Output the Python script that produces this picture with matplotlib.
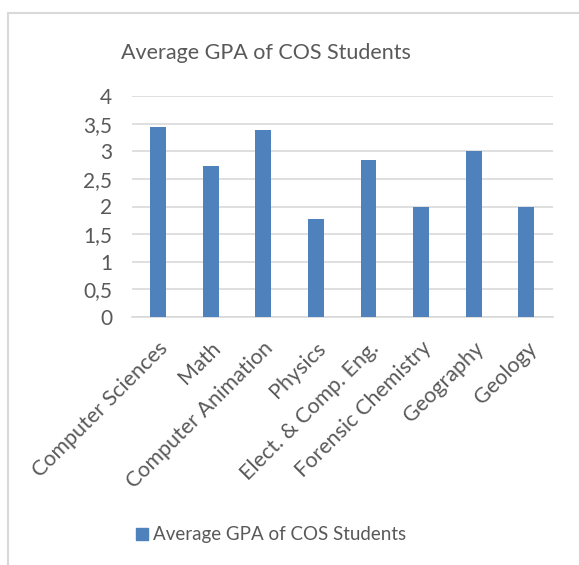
import matplotlib
matplotlib.use("Agg")
import matplotlib.pyplot as plt
from matplotlib.patches import Rectangle
from matplotlib.lines import Line2D
from matplotlib.transforms import ScaledTranslation

categories = ["Computer Sciences", "Math", "Computer Animation", "Physics",
              "Elect. & Comp. Eng.", "Forensic Chemistry", "Geography", "Geology"]
gpa = [3.43, 2.73, 3.38, 1.78, 2.84, 1.99, 3.0, 2.0]
yticks = [0, 0.5, 1, 1.5, 2, 2.5, 3, 3.5, 4]
ytick_labels = ["0", "0,5", "1", "1,5", "2", "2,5", "3", "3,5", "4"]
title = "Average GPA of COS Students"
series_name = "Average GPA of COS Students"

plt.rcParams['font.family'] = ['Lato', 'DejaVu Sans']
txt = "#595959"
bar_color = "#4F81BD"

fig = plt.figure(figsize=(5.79, 5.65), dpi=100)
W, H = 579, 565
ax = fig.add_axes([131.7 / W, 1 - 317 / H, (552.7 - 131.7) / W, (317 - 96) / H])

x = list(range(len(categories)))
ax.bar(x, gpa, width=0.30, color=bar_color, zorder=3)
ax.set_xlim(-0.5, len(categories) - 0.5)
ax.set_ylim(0, 4)
ax.set_yticks(yticks)
ax.set_yticklabels(ytick_labels, fontsize=15, color=txt)
ax.yaxis.grid(True, color="#D9D9D9", linewidth=1.2, zorder=0)
ax.tick_params(axis='y', length=0, pad=14)
ax.tick_params(axis='x', length=0, pad=0)
ax.set_xticks(x)
ax.set_xticklabels(categories, rotation=45, ha='right', va='center',
                   rotation_mode='anchor', fontsize=15.5, color=txt)
off = ScaledTranslation(7 / 100, -28 / 100, fig.dpi_scale_trans)
for lbl in ax.get_xticklabels():
    lbl.set_transform(lbl.get_transform() + off)
for s in ['top', 'right', 'left']:
    ax.spines[s].set_visible(False)
ax.spines['bottom'].set_color("#D9D9D9")
ax.spines['bottom'].set_linewidth(1.2)

fig.text(266 / W, 1 - 59 / H, title, ha='center', va='baseline', fontsize=15.5, color=txt)

# legend
fig.patches.append(Rectangle((136 / W, 1 - 540 / H), 12 / W, 12.5 / H,
                             transform=fig.transFigure, color=bar_color))
fig.text(153 / W, 1 - 540 / H, series_name, ha='left', va='baseline', fontsize=13.5, color=txt)

# chart border
fig.lines.append(Line2D([8 / W, 1], [1 - 13 / H, 1 - 13 / H], transform=fig.transFigure,
                        color="#D9D9D9", linewidth=1.5))
fig.lines.append(Line2D([8 / W, 8 / W], [1 - 13 / H, 0], transform=fig.transFigure,
                        color="#D9D9D9", linewidth=1.5))

fig.savefig("out.png", dpi=100, facecolor="white")
